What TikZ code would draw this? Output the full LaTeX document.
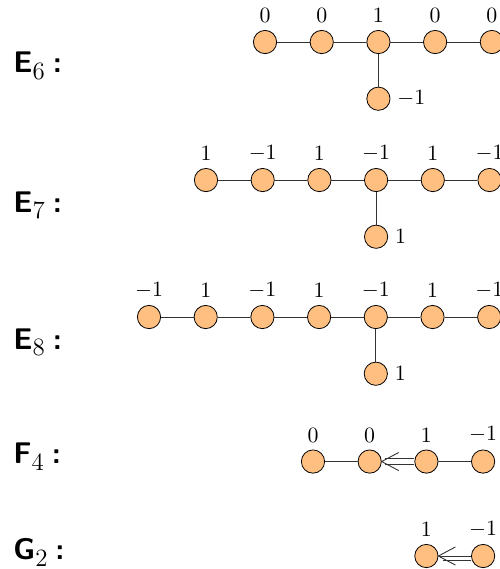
\documentclass[tikz,border=0pt]{standalone}
\usepackage{tikz}
\usetikzlibrary{positioning, arrows.meta}

% name of a Dynkin type, e.g. E_6 :
\newcommand{\dtype}[2]{{\fontsize{15}{18}\selectfont\sffamily\bfseries #1}%
  \raisebox{-3.5pt}{\fontsize{12.5}{15}\selectfont #2}\hspace{4pt}%
  {\fontsize{15}{18}\selectfont\sffamily\bfseries :}}

\begin{document}
\begin{tikzpicture}[
    vert/.style={circle, draw=black, fill=orange!50, minimum size=0.41cm, inner sep=0pt,
                 label distance=0pt},
    every label/.style={font=\fontsize{11}{13}\selectfont},
    edge/.style={draw=black!80, line width=0.45pt},
    tname/.style={anchor=base west, inner sep=0pt}
]

\useasboundingbox (0,0) rectangle (8.818,-10.035);

% Row heights
\def\eSixY{-0.741}
\def\eSevY{-3.175}
\def\eEigY{-5.591}
\def\fFouY{-8.14}
\def\gTwoY{-9.806}

% E6
\node[tname] at (0.229,-1.287) {\dtype{E}{6}};
\foreach \w [count=\i] in {0,0,1,0,0}
  \node[vert, label=above:$\w$] (ea\i) at ({4.674+\i-1},\eSixY) {};
\node[vert, label=right:$-1$] (ea6) at (6.674,{\eSixY-1}) {};
\foreach \i/\j in {1/2,2/3,3/4,4/5,3/6}
  \draw[edge] (ea\i) -- (ea\j);

% E7
\node[tname] at (0.229,-3.739) {\dtype{E}{7}};
\foreach \w [count=\i] in {1,-1,1,-1,1,-1}
  \node[vert, label=above:$\w$] (eb\i) at ({3.633+\i-1},\eSevY) {};
\node[vert, label=right:$1$] (eb7) at (6.633,{\eSevY-1}) {};
\foreach \i/\j in {1/2,2/3,3/4,4/5,5/6,4/7}
  \draw[edge] (eb\i) -- (eb\j);

% E8
\node[tname] at (0.229,-6.155) {\dtype{E}{8}};
\foreach \w [count=\i] in {-1,1,-1,1,-1,1,-1}
  \node[vert, label=above:$\w$] (ec\i) at ({2.628+\i-1},\eEigY) {};
\node[vert, label=right:$1$] (ec8) at (6.628,{\eEigY-1}) {};
\foreach \i/\j in {1/2,2/3,3/4,4/5,5/6,6/7,5/8}
  \draw[edge] (ec\i) -- (ec\j);

% F4
\node[tname] at (0.229,-8.183) {\dtype{F}{4}};
\foreach \w [count=\i] in {0,0,1,-1}
  \node[vert, label=above:$\w$] (fa\i) at ({5.52+\i-1},\fFouY) {};
\draw[edge] (fa1) -- (fa2);
\draw[edge] (fa3) -- (fa4);
\draw[edge, double, double distance=2.6pt, shorten >=1.5pt] (fa3) -- (fa2);
\draw[edge] ([xshift=0.3cm,yshift=0.16cm]fa2.east) -- (fa2.east) -- ([xshift=0.3cm,yshift=-0.16cm]fa2.east);

% G2
\node[tname] at (0.229,-9.86) {\dtype{G}{2}};
\foreach \w [count=\i] in {1,-1}
  \node[vert, label=above:$\w$] (ga\i) at ({7.52+\i-1},\gTwoY) {};
\draw[edge, double, double distance=3.6pt, shorten >=2.5pt] (ga2) -- (ga1);
\draw[edge, shorten >=1pt] (ga2) -- (ga1);
\draw[edge] ([xshift=0.3cm,yshift=0.16cm]ga1.east) -- (ga1.east) -- ([xshift=0.3cm,yshift=-0.16cm]ga1.east);

\end{tikzpicture}
\end{document}
